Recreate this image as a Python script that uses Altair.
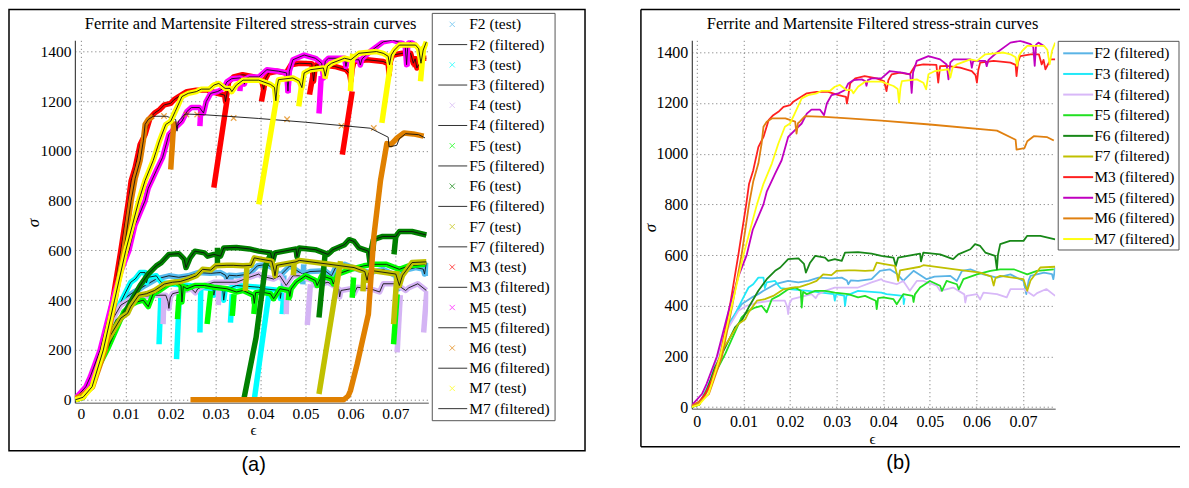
import altair as alt
import pandas as pd

SERIES = ["F2", "F3", "F4", "F5", "F6", "F7", "M3", "M5", "M6", "M7"]
TEST_COLORS = ["#55bbee", "#00ffff", "#d4b4f4", "#00ff00", "#008000", "#c0c000",
               "#ff0000", "#ff00ff", "#e08000", "#ffff00"]
LINE_COLORS = ["#5ab4e6", "#22e8f8", "#d8b8f8", "#22e022", "#188818", "#c0c000",
               "#ff2020", "#c000c0", "#e08010", "#ffff10"]
X_TICKS = [0, 0.01, 0.02, 0.03, 0.04, 0.05, 0.06, 0.07]
Y_TICKS = [0, 200, 400, 600, 800, 1000, 1200, 1400]
TITLE = "Ferrite and Martensite Filtered stress-strain curves"

# filtered curves (strain, stress)
F2 = [(-0.0012, 0), (0.0005, 10), (0.0030, 100), (0.0068, 328), (0.0096, 406), (0.0118, 433),
      (0.0132, 446), (0.0143, 459), (0.0168, 485), (0.0196, 498), (0.0218, 492), (0.0239, 498),
      (0.0261, 511), (0.0289, 508), (0.0311, 511), (0.0322, 500), (0.0325, 485), (0.0330, 500),
      (0.0346, 498), (0.0375, 505), (0.0393, 538), (0.0414, 544), (0.0430, 525), (0.0443, 498),
      (0.0465, 538), (0.0493, 505), (0.0510, 515), (0.0544, 518), (0.0558, 498), (0.0569, 538),
      (0.0587, 544), (0.0615, 524), (0.0644, 511), (0.0673, 524), (0.0701, 498), (0.0707, 446),
      (0.0712, 500), (0.0716, 518), (0.0745, 531), (0.0762, 525), (0.0765, 505), (0.0769, 551)]
F3 = [(-0.0012, 0), (0.0005, 10), (0.0030, 110), (0.0060, 290), (0.0082, 367), (0.0100, 433),
      (0.0111, 472), (0.0121, 485), (0.0132, 511), (0.0143, 511), (0.0146, 470), (0.0150, 492),
      (0.0168, 498), (0.0175, 480), (0.0180, 470), (0.0204, 465), (0.0239, 459), (0.0294, 446),
      (0.0296, 420), (0.0299, 446), (0.0316, 440), (0.0318, 400), (0.0321, 440), (0.0346, 459),
      (0.0396, 452), (0.0407, 446), (0.0443, 439), (0.0444, 407), (0.0446, 430)]
F4 = [(-0.0012, 0), (0.0005, 10), (0.0030, 100), (0.0060, 290), (0.0089, 380), (0.0107, 400),
      (0.0132, 413), (0.0161, 420), (0.0189, 420), (0.0194, 395), (0.0196, 367), (0.0199, 410),
      (0.0204, 426), (0.0232, 439), (0.0246, 446), (0.0255, 430), (0.0260, 445), (0.0275, 459),
      (0.0296, 472), (0.0346, 472), (0.0375, 492), (0.0396, 505), (0.0400, 498), (0.0429, 485),
      (0.0443, 498), (0.0457, 459), (0.0472, 498), (0.0486, 498), (0.0515, 479), (0.0522, 459),
      (0.0550, 472), (0.0574, 445), (0.0576, 413), (0.0579, 439), (0.0601, 446), (0.0608, 425),
      (0.0615, 452), (0.0644, 446), (0.0665, 433), (0.0673, 466), (0.0701, 466), (0.0723, 439),
      (0.0730, 450), (0.0750, 466), (0.0769, 439)]
F5 = [(-0.0012, 0), (0.0005, 10), (0.0030, 100), (0.0061, 210), (0.0096, 354), (0.0111, 380),
      (0.0125, 393), (0.0139, 400), (0.0150, 374), (0.0161, 426), (0.0175, 439), (0.0196, 465),
      (0.0211, 472), (0.0223, 459), (0.0225, 393), (0.0228, 455), (0.0236, 446), (0.0254, 459),
      (0.0275, 459), (0.0296, 452), (0.0325, 446), (0.0346, 433), (0.0361, 439), (0.0384, 420),
      (0.0386, 387), (0.0389, 430), (0.0400, 433), (0.0422, 426), (0.0429, 406), (0.0443, 446),
      (0.0463, 439), (0.0465, 415), (0.0468, 445), (0.0479, 472), (0.0500, 498), (0.0522, 479),
      (0.0526, 459), (0.0536, 498), (0.0558, 485), (0.0562, 465), (0.0572, 505), (0.0601, 524),
      (0.0630, 538), (0.0651, 544), (0.0680, 544), (0.0709, 524), (0.0730, 538), (0.0766, 544)]
F6 = [(-0.0012, 0), (0.0005, 10), (0.0020, 60), (0.0039, 157), (0.0061, 236), (0.0082, 315),
      (0.0096, 341), (0.0111, 393), (0.0132, 459), (0.0150, 505), (0.0168, 538), (0.0179, 551),
      (0.0196, 584), (0.0218, 587), (0.0230, 565), (0.0234, 531), (0.0243, 570), (0.0254, 597),
      (0.0275, 590), (0.0282, 577), (0.0296, 584), (0.0311, 577), (0.0318, 610), (0.0346, 612),
      (0.0375, 606), (0.0396, 597), (0.0422, 590), (0.0427, 557), (0.0432, 590), (0.0479, 606),
      (0.0481, 575), (0.0486, 610), (0.0522, 603), (0.0550, 584), (0.0561, 603), (0.0587, 623),
      (0.0597, 643), (0.0608, 636), (0.0619, 610), (0.0640, 597), (0.0644, 544), (0.0646, 600),
      (0.0651, 643), (0.0672, 656), (0.0701, 656), (0.0709, 676), (0.0737, 676), (0.0769, 662)]
F7 = [(-0.0012, 0), (0.0005, 10), (0.0025, 70), (0.0054, 223), (0.0089, 328), (0.0104, 347),
      (0.0111, 374), (0.0129, 420), (0.0146, 426), (0.0164, 439), (0.0186, 465), (0.0204, 472),
      (0.0221, 475), (0.0239, 485), (0.0257, 498), (0.0271, 524), (0.0289, 521), (0.0300, 538),
      (0.0325, 540), (0.0339, 540), (0.0361, 538), (0.0379, 540), (0.0386, 570), (0.0400, 565),
      (0.0425, 557), (0.0430, 520), (0.0432, 498), (0.0436, 540), (0.0479, 554), (0.0486, 560),
      (0.0550, 545), (0.0608, 531), (0.0632, 515), (0.0637, 480), (0.0641, 510), (0.0651, 518),
      (0.0701, 505), (0.0709, 459), (0.0716, 500), (0.0737, 551), (0.0769, 554)]
M3 = [(-0.0012, 5), (0.0004, 20), (0.0018, 52), (0.0032, 105), (0.0050, 200), (0.0071, 400),
      (0.0089, 600), (0.0106, 800), (0.0112, 880), (0.0121, 934), (0.0132, 1026), (0.0143, 1066),
      (0.0154, 1132), (0.0164, 1152), (0.0175, 1165), (0.0186, 1185), (0.0200, 1191),
      (0.0207, 1205), (0.0218, 1218), (0.0236, 1238), (0.0257, 1244), (0.0282, 1244),
      (0.0304, 1231), (0.0320, 1224), (0.0322, 1198), (0.0325, 1228), (0.0329, 1277),
      (0.0340, 1297), (0.0360, 1306), (0.0386, 1297), (0.0402, 1285), (0.0407, 1247),
      (0.0411, 1290), (0.0418, 1313), (0.0436, 1320), (0.0457, 1313), (0.0468, 1346),
      (0.0486, 1352), (0.0514, 1350), (0.0518, 1280), (0.0522, 1345), (0.0536, 1346),
      (0.0565, 1339), (0.0590, 1326), (0.0598, 1310), (0.0601, 1280), (0.0604, 1330),
      (0.0608, 1359), (0.0637, 1366), (0.0673, 1359), (0.0684, 1350), (0.0686, 1306),
      (0.0689, 1360), (0.0694, 1385), (0.0716, 1392), (0.0734, 1392), (0.0740, 1352),
      (0.0744, 1370), (0.0748, 1333), (0.0759, 1372), (0.0769, 1372)]
M5 = [(-0.0012, 5), (0.0011, 52), (0.0021, 92), (0.0043, 200), (0.0071, 400), (0.0090, 520),
      (0.0107, 600), (0.0120, 700), (0.0143, 800), (0.0150, 850), (0.0168, 921), (0.0182, 974),
      (0.0196, 1066), (0.0210, 1092), (0.0225, 1119), (0.0236, 1158), (0.0246, 1174),
      (0.0264, 1174), (0.0273, 1152), (0.0279, 1198), (0.0289, 1231), (0.0304, 1238),
      (0.0318, 1251), (0.0325, 1277), (0.0336, 1290), (0.0354, 1293), (0.0362, 1285),
      (0.0364, 1268), (0.0367, 1290), (0.0375, 1297), (0.0396, 1297), (0.0414, 1326),
      (0.0440, 1320), (0.0458, 1313), (0.0461, 1240), (0.0464, 1320), (0.0472, 1366),
      (0.0497, 1385), (0.0522, 1372), (0.0536, 1352), (0.0540, 1293), (0.0544, 1360),
      (0.0551, 1372), (0.0587, 1372), (0.0590, 1339), (0.0593, 1365), (0.0608, 1366),
      (0.0619, 1366), (0.0622, 1345), (0.0626, 1370), (0.0644, 1399), (0.0673, 1438),
      (0.0694, 1445), (0.0716, 1432), (0.0722, 1420), (0.0725, 1346), (0.0728, 1430),
      (0.0733, 1438), (0.0745, 1425)]
M6 = [(-0.0012, 5), (0.0005, 20), (0.0026, 52), (0.0054, 200), (0.0076, 400), (0.0096, 600),
      (0.0112, 800), (0.0121, 890), (0.0132, 961), (0.0139, 1040), (0.0143, 1106),
      (0.0150, 1126), (0.0161, 1139), (0.0190, 1139), (0.0211, 1126), (0.0214, 1079),
      (0.0217, 1120), (0.0221, 1126), (0.0232, 1148), (0.0275, 1145), (0.0325, 1139),
      (0.0396, 1130), (0.0500, 1115), (0.0644, 1091), (0.0684, 1055), (0.0686, 1016),
      (0.0703, 1022), (0.0709, 1049), (0.0723, 1069), (0.0752, 1065), (0.0766, 1052)]
M7 = [(-0.0012, 0), (0.0005, 10), (0.0025, 52), (0.0050, 200), (0.0075, 400), (0.0100, 600),
      (0.0129, 800), (0.0143, 881), (0.0161, 961), (0.0175, 1040), (0.0189, 1106),
      (0.0200, 1119), (0.0210, 1158), (0.0225, 1218), (0.0239, 1231), (0.0257, 1238),
      (0.0268, 1248), (0.0286, 1248), (0.0296, 1264), (0.0307, 1271), (0.0321, 1251),
      (0.0332, 1251), (0.0336, 1238), (0.0346, 1264), (0.0361, 1284), (0.0396, 1284),
      (0.0422, 1267), (0.0431, 1255), (0.0434, 1201), (0.0437, 1260), (0.0440, 1286),
      (0.0472, 1293), (0.0486, 1280), (0.0492, 1254), (0.0497, 1313), (0.0511, 1326),
      (0.0540, 1333), (0.0544, 1300), (0.0549, 1340), (0.0558, 1352), (0.0587, 1372),
      (0.0601, 1366), (0.0619, 1392), (0.0658, 1399), (0.0673, 1392), (0.0684, 1380),
      (0.0687, 1346), (0.0691, 1385), (0.0698, 1405), (0.0709, 1425), (0.0745, 1425),
      (0.0752, 1410), (0.0757, 1352), (0.0762, 1405), (0.0769, 1438)]

# test-data unloading streaks in panel (a): (x_top, y_top, x_bottom, y_bottom)
F2_streaks = [(0.0452, 500, 0.0450, 440), (0.0496, 544, 0.0494, 464), (0.0767, 544, 0.0767, 497),
              (0.0335, 500, 0.0333, 470)]
F3_streaks = [(0.0178, 410, 0.0174, 223), (0.0219, 410, 0.0213, 163), (0.0267, 450, 0.0265, 270),
              (0.0337, 424, 0.0333, 310), (0.0452, 430, 0.0448, 344)]
F4_streaks = [(0.0185, 424, 0.0183, 304), (0.0307, 460, 0.0306, 380), (0.0459, 470, 0.0457, 344),
              (0.0511, 464, 0.0504, 300), (0.0711, 420, 0.0704, 190), (0.0770, 437, 0.0763, 270)]
F5_streaks = [(0.0219, 424, 0.0215, 324), (0.0289, 437, 0.0281, 304), (0.0341, 424, 0.0337, 337),
              (0.0389, 424, 0.0385, 344), (0.0464, 440, 0.0462, 400), (0.0607, 491, 0.0604, 410),
              (0.0704, 424, 0.0696, 223)]
F6_streaks = [(0.0304, 611, 0.0304, 545), (0.0544, 591, 0.0530, 330), (0.0652, 640, 0.0650, 600),
              (0.0701, 658, 0.0697, 584)]
F7_streaks = [(0.0370, 544, 0.0366, 437), (0.0475, 560, 0.0473, 500), (0.0630, 505, 0.0628, 435),
              (0.0704, 517, 0.0696, 304)]
M3_streaks = [(0.0326, 1213, 0.0296, 852), (0.0407, 1248, 0.0402, 1198), (0.0518, 1320, 0.0509, 1226),
              (0.0604, 1239, 0.0582, 985), (0.0746, 1380, 0.0744, 1335)]
M5_streaks = [(0.0267, 1172, 0.0265, 1099), (0.0356, 1290, 0.0354, 1240), (0.0463, 1306, 0.0461, 1233),
              (0.0535, 1300, 0.0530, 1150), (0.0726, 1400, 0.0726, 1340)]
M6_streaks = [(0.0207, 1119, 0.0200, 925)]
M7_streaks = [(0.0437, 1226, 0.0396, 785), (0.0493, 1286, 0.0485, 1179), (0.0546, 1320, 0.0543, 1290),
              (0.0605, 1390, 0.0600, 1240), (0.0689, 1346, 0.0670, 1112), (0.0763, 1420, 0.0756, 1280)]

# reloading paths of test data in panel (a)
F3_reload = [(0.0386, 0), (0.0418, 420)]
F6_reload = [(0.0362, -5), (0.0390, 250), (0.0411, 540), (0.0425, 595)]
F7_reload = [(0.0530, 23), (0.0578, 557)]
M6_reload = [(0.0244, 0), (0.0585, 0), (0.0595, 15), (0.0600, 36), (0.0615, 143), (0.0640, 344),
             (0.0652, 654), (0.0667, 882), (0.0681, 1029), (0.0690, 1025), (0.0704, 1052),
             (0.0719, 1072), (0.0740, 1068), (0.0763, 1059)]
M6_marks = [(0.0185, 1140), (0.0235, 1146), (0.0259, 1146), (0.0340, 1132), (0.0459, 1127),
            (0.0580, 1100), (0.0652, 1092)]

FILTERED = {"F2": F2, "F3": F3, "F4": F4, "F5": F5, "F6": F6, "F7": F7,
            "M3": M3, "M5": M5, "M6": M6, "M7": M7}
STREAKS = {"F2": F2_streaks, "F3": F3_streaks, "F4": F4_streaks, "F5": F5_streaks,
           "F6": F6_streaks, "F7": F7_streaks, "M3": M3_streaks, "M5": M5_streaks,
           "M6": M6_streaks, "M7": M7_streaks}
RELOADS = {"F3": [F3_reload], "F6": [F6_reload], "F7": [F7_reload], "M6": [M6_reload]}

SERIF = "Liberation Serif"
ONE = pd.DataFrame({"k": [0]})
XMARK = "M-1,-1L1,1M-1,1L1,-1"


def path_df(points, seg):
    return pd.DataFrame({"strain": [p[0] for p in points],
                         "stress": [p[1] for p in points],
                         "idx": list(range(len(points))),
                         "seg": seg})


def axes(label_pad_x, fs):
    xa = alt.Axis(values=X_TICKS, labelExpr="datum.value == 0 ? '0' : format(datum.value, '.2f')",
                  title=None, grid=True, gridDash=[1, 3], gridColor="#6e6e6e", gridWidth=1,
                  ticks=False, domainColor="#8c8c8c", domainWidth=1.5, labelFont=SERIF,
                  labelFontSize=fs, labelColor="black", labelPadding=label_pad_x,
                  labelFlush=False, labelOverlap=False)
    ya = alt.Axis(values=Y_TICKS, format="d", title=None, grid=True, gridDash=[1, 3],
                  gridColor="#6e6e6e", gridWidth=1, ticks=False, domainColor="#444444",
                  domainWidth=1.2, labelFont=SERIF, labelFontSize=fs, labelColor="black",
                  labelPadding=4, labelFlush=False, labelOverlap=False)
    return xa, ya


def line_layer(df, xs, ys, xa, ya, color, width):
    return alt.Chart(df).mark_line(color=color, strokeWidth=width, clip=True,
                                   strokeJoin="round", strokeCap="butt").encode(
        x=alt.X("strain:Q", scale=xs, axis=xa),
        y=alt.Y("stress:Q", scale=ys, axis=ya),
        detail="seg:N",
        order="idx:Q")


def text_at(txt, x, y, size, font=SERIF, angle=0, italic=False):
    kw = dict(text=txt, font=font, fontSize=size, color="black", align="center", baseline="middle")
    if angle:
        kw["angle"] = angle
    if italic:
        kw["fontStyle"] = "italic"
    return alt.Chart(ONE).mark_text(**kw).encode(x=alt.value(x), y=alt.value(y))


# ---------------- panel (a) ----------------
xs_a = alt.Scale(domain=[-0.00133, 0.07733], nice=False, zero=False)
ys_a = alt.Scale(domain=[-12, 1444], nice=False, zero=False)
xa_a, ya_a = axes(4, 15.5)

layers_a = [
    alt.Chart(ONE).mark_rect(fillOpacity=0, stroke="black", strokeWidth=1.5).encode(
        x=alt.value(-66), x2=alt.value(511), y=alt.value(-31), y2=alt.value(411)),
]
for name, tcol in zip(SERIES, TEST_COLORS):
    filt = FILTERED[name]
    band = [p for p in filt if p[0] <= 0.0161] if name == "M6" else filt
    parts = [path_df(band, "band")]
    for i, s in enumerate(STREAKS[name]):
        parts.append(path_df([(s[2], s[3]), (s[0], s[1])], "s%d" % i))
    for j, r in enumerate(RELOADS.get(name, [])):
        parts.append(path_df(r, "r%d" % j))
    tdf = pd.concat(parts, ignore_index=True)
    layers_a.append(line_layer(tdf, xs_a, ys_a, xa_a, ya_a, tcol, 5.5))
    if name == "M6":
        mdf = path_df(M6_marks, "m")
        layers_a.append(alt.Chart(mdf).mark_point(shape=XMARK, filled=False, size=30,
                                                   strokeWidth=1.2, color=tcol, clip=True).encode(
            x=alt.X("strain:Q", scale=xs_a, axis=xa_a),
            y=alt.Y("stress:Q", scale=ys_a, axis=ya_a)))
    layers_a.append(line_layer(path_df(filt, "f"), xs_a, ys_a, xa_a, ya_a, "#111111", 0.9))

# legend (a)
rows = []
for i, (name, tcol) in enumerate(zip(SERIES, TEST_COLORS)):
    rows.append({"label": name + " (test)", "kind": "test", "col": tcol, "py": -16 + 20.26 * (2 * i)})
    rows.append({"label": name + " (filtered)", "kind": "filt", "col": "#333333",
                 "py": -16 + 20.26 * (2 * i + 1)})
leg_a = pd.DataFrame(rows)
layers_a += [
    alt.Chart(ONE).mark_rect(fill="white", stroke="#555555", strokeWidth=1).encode(
        x=alt.value(358), x2=alt.value(481), y=alt.value(-27), y2=alt.value(381)),
    alt.Chart(leg_a[leg_a.kind == "test"]).mark_point(shape=XMARK, filled=False, size=28,
                                                      strokeWidth=1).encode(
        x=alt.value(378), y=alt.Y("py:Q", scale=None), color=alt.Color("col:N", scale=None)),
    alt.Chart(leg_a[leg_a.kind == "filt"]).mark_rule(color="#333333", strokeWidth=1).encode(
        x=alt.value(364), x2=alt.value(393), y=alt.Y("py:Q", scale=None)),
    alt.Chart(leg_a).mark_text(align="left", baseline="middle", font=SERIF, fontSize=15.5,
                               color="black").encode(
        x=alt.value(395), y=alt.Y("py:Q", scale=None), text="label:N"),
    text_at(TITLE, 176, -16, 16.5),
    text_at("ϵ", 179, 390, 15),
    text_at("σ", -41, 183, 17, angle=270, italic=True),
    text_at("(a)", 179, 425, 20, font="Liberation Sans"),
]
panel_a = alt.layer(*layers_a).properties(width=354, height=363)

# ---------------- panel (b) ----------------
xs_b = alt.Scale(domain=[-0.00107, 0.0769], nice=False, zero=False)
ys_b = alt.Scale(domain=[-6, 1447], nice=False, zero=False)
xa_b, ya_b = axes(5, 16)

layers_b = [
    alt.Chart(ONE).mark_rule(color="black", strokeWidth=1.5).encode(
        x=alt.value(-51), x2=alt.value(489), y=alt.value(-31)),
    alt.Chart(ONE).mark_rule(color="black", strokeWidth=1.5).encode(
        x=alt.value(-51), x2=alt.value(489), y=alt.value(407)),
    alt.Chart(ONE).mark_rule(color="black", strokeWidth=1.5).encode(
        x=alt.value(-51), y=alt.value(-31), y2=alt.value(407)),
]
for name, lcol in zip(SERIES, LINE_COLORS):
    layers_b.append(line_layer(path_df(FILTERED[name], "f"), xs_b, ys_b, xa_b, ya_b, lcol, 1.8))

leg_b = pd.DataFrame({"label": [n + " (filtered)" for n in SERIES], "col": LINE_COLORS,
                      "py": [13 + 20.67 * i for i in range(len(SERIES))]})
layers_b += [
    alt.Chart(ONE).mark_rect(fill="white", stroke="#555555", strokeWidth=1).encode(
        x=alt.value(367), x2=alt.value(488), y=alt.value(1), y2=alt.value(210)),
    alt.Chart(leg_b).mark_rule(strokeWidth=2).encode(
        x=alt.value(372), x2=alt.value(402), y=alt.Y("py:Q", scale=None),
        color=alt.Color("col:N", scale=None)),
    alt.Chart(leg_b).mark_text(align="left", baseline="middle", font=SERIF, fontSize=15.5,
                               color="black").encode(
        x=alt.value(403), y=alt.Y("py:Q", scale=None), text="label:N"),
    text_at(TITLE, 181, -16, 16.5),
    text_at("ϵ", 181, 399, 15),
    text_at("σ", -41, 188, 17, angle=270, italic=True),
    text_at("(b)", 207, 423, 20, font="Liberation Sans"),
]
panel_b = alt.layer(*layers_b).properties(width=364, height=369)

chart = alt.hconcat(panel_a, panel_b, spacing=264, bounds="flush").configure_view(
    stroke=None).properties(padding=0, background="white")

chart.save("out.html", embed_options={"renderer": "svg", "actions": False})
